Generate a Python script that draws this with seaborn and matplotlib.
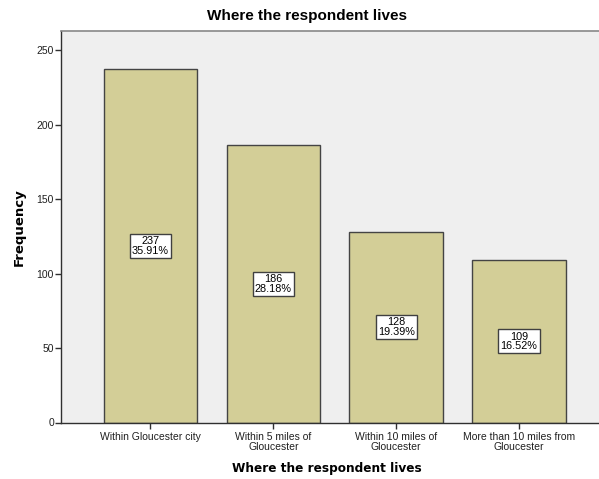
import matplotlib
matplotlib.use("Agg")
import matplotlib.pyplot as plt
import seaborn as sns
import pandas as pd

categories = [
    "Within Gloucester city",
    "Within 5 miles of\nGloucester",
    "Within 10 miles of\nGloucester",
    "More than 10 miles from\nGloucester",
]
counts = [237, 186, 128, 109]
percents = ["35.91%", "28.18%", "19.39%", "16.52%"]
yticks = [0, 50, 100, 150, 200, 250]

sns.set_theme(style="white")
plt.rcParams["font.family"] = ["Liberation Sans", "DejaVu Sans"]
plt.rcParams["text.color"] = "black"
plt.rcParams["axes.labelcolor"] = "black"
plt.rcParams["xtick.color"] = "black"
plt.rcParams["ytick.color"] = "black"

df = pd.DataFrame({"place": categories, "freq": counts})

fig = plt.figure(figsize=(5.99, 4.79), dpi=100)
ax_w = 1 - 61 / 599 + 0.01
ax = fig.add_axes([61 / 599, 1 - 422.5 / 479, ax_w, (422.5 - 31) / 479])
ax.set_facecolor("#efefef")

sns.barplot(data=df, x="place", y="freq", color="#d3ce97", saturation=1,
            width=0.76, edgecolor="#444444", linewidth=1.0, ax=ax)

for i, (c, p) in enumerate(zip(counts, percents)):
    ax.text(i, c / 2, f"{c}\n{p}", ha="center", va="center", fontsize=7.8,
            linespacing=0.95, color="black",
            bbox=dict(boxstyle="square,pad=0.2", fc="white", ec="#404040", lw=1.0))

ax.set_xlim(-0.728, 3.7)
ax.set_ylim(0, 262.8)
ax.set_yticks(yticks)
ax.tick_params(axis="both", which="both", direction="out", length=4, width=1,
               color="#303030", labelsize=7.5, pad=1, left=True, bottom=True,
               labelcolor="#202020")
ax.tick_params(axis="x", pad=3)
for lbl in ax.get_xticklabels():
    lbl.set_linespacing(0.95)

for side in ["left", "bottom"]:
    ax.spines[side].set_color("#303030")
    ax.spines[side].set_linewidth(1.0)
ax.spines["top"].set_color("#888888")
ax.spines["top"].set_linewidth(1.2)
ax.spines["right"].set_visible(False)

ax_px = ax_w * 599
ax.set_xlabel("Where the respondent lives", fontsize=8.7, fontweight="bold",
              family=["DejaVu Sans"], labelpad=7, color="black",
              x=(326.5 - 61) / ax_px)
ax.set_ylabel("Frequency", fontsize=9.5, fontweight="bold", family=["DejaVu Sans"],
              labelpad=8, color="black")
ax.set_title("Where the respondent lives", fontsize=11, fontweight="bold", pad=8,
             color="black", x=(307 - 61) / ax_px)

fig.savefig("out.png", dpi=100)
